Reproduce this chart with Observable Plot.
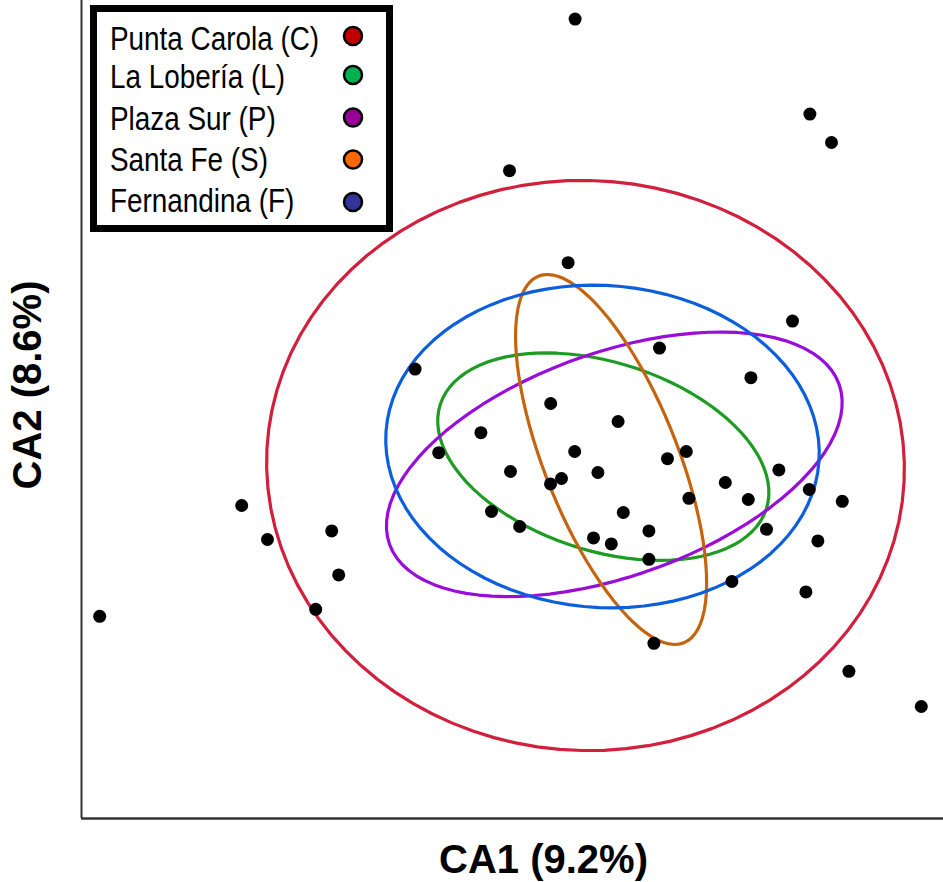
<!DOCTYPE html>
<html>
<head>
<meta charset="utf-8">
<script src="https://cdn.jsdelivr.net/npm/d3@7"></script>
<script src="https://cdn.jsdelivr.net/npm/@observablehq/plot@0.6"></script>
<style>
  html, body { margin: 0; padding: 0; background: #fff; }
  #chart { width: 943px; height: 882px; position: relative; }
</style>
</head>
<body>
<div id="chart"></div>
<script>
// ---- Data ----
const xLabel = "CA1 (9.2%)";
const yLabel = "CA2 (8.6%)";

// Sample scores (CA1, CA2)
const ca1 = [-0.057, 1.117, 1.225, -0.385, -0.092, 1.030, 0.365, 0.822, -0.179, 0.158,
             -0.857, -1.724, -1.595, -1.274, -1.239, -1.354, -2.434, -0.528, -0.739, -0.380,
             -0.475, -0.334, -0.059, -0.180, -0.125, 0.057, 0.405, 0.499, 0.962, 0.694,
             0.809, 0.512, 1.114, 1.279, 0.184, 0.312, 0.035, 0.124, 0.312, 0.900,
             1.157, 0.727, 1.097, 0.337, 1.312, 1.674];
const ca2 = [2.232, 1.757, 1.615, 1.474, 1.014, 0.722, 0.587, 0.439, 0.310, 0.220,
             0.482, -0.200, -0.370, -0.327, -0.547, -0.719, -0.754, 0.164, 0.064, -0.030,
             -0.230, -0.305, 0.070, -0.092, -0.065, -0.035, 0.034, 0.070, -0.022, -0.085,
             -0.170, -0.164, -0.120, -0.179, -0.235, -0.327, -0.362, -0.392, -0.469, -0.319,
             -0.377, -0.580, -0.632, -0.889, -1.029, -1.205];

// Sites (legend)
const sites = ["Punta Carola (C)", "La Lobería (L)", "Plaza Sur (P)", "Santa Fe (S)", "Fernandina (F)"];

// Ellipse parameters per site: centre, semi-axes, rotation (degrees, CCW)
const ellipseCx    = [-0.005, 0.084, 0.139, 0.123, 0.080];
const ellipseCy    = [0.000, 0.044, 0.006, 0.030, 0.095];
const ellipseA     = [1.595, 0.856, 1.193, 0.986, 1.085];
const ellipseB     = [1.425, 0.471, 0.559, 0.334, 0.805];
const ellipseAngle = [-3, -17.7, 19.6, -68.4, -4];

// ---- Styles ----
const legendColors  = ["#c00000", "#00b050", "#990099", "#ff6600", "#333399"];
const ellipseColors = ["#d21f3c", "#1e9b23", "#9a0cd8", "#c4640f", "#0b5fdc"];

// ---- Build tables ----
const points = ca1.map((x, i) => ({x, y: ca2[i]}));
const outline = [];
sites.forEach((s, k) => {
  const t0 = ellipseAngle[k] * Math.PI / 180;
  const n = 90;
  for (let j = 0; j < n; j++) {
    const t = 2 * Math.PI * j / n;
    const ex = ellipseA[k] * Math.cos(t), ey = ellipseB[k] * Math.sin(t);
    outline.push({
      site: s,
      x: ellipseCx[k] + ex * Math.cos(t0) - ey * Math.sin(t0),
      y: ellipseCy[k] + ex * Math.sin(t0) + ey * Math.cos(t0)
    });
  }
});

const xDomain = [-2.525, 1.785];
const yDomain = [-1.765, 2.325];

const chart = Plot.plot({
  width: 943,
  height: 882,
  marginLeft: 81,
  marginRight: 0,
  marginTop: 0,
  marginBottom: 64,
  style: {fontFamily: "'Liberation Sans', Arial, sans-serif", background: "#fff", overflow: "visible"},
  x: {domain: xDomain, axis: null},
  y: {domain: yDomain, axis: null},
  color: {domain: sites, range: ellipseColors},
  marks: [
    Plot.line(outline, {x: "x", y: "y", z: "site", stroke: "site", strokeWidth: 3.2, curve: "linear-closed"}),
    Plot.dot(points, {x: "x", y: "y", r: 6.5, fill: "black", stroke: "none"}),
    Plot.ruleX([xDomain[0]], {stroke: "#333", strokeWidth: 2}),
    Plot.ruleY([yDomain[0]], {stroke: "#333", strokeWidth: 2.5}),
    Plot.text([xLabel], {frameAnchor: "bottom", dx: 31, dy: 54, fontSize: 40, fontWeight: "bold", fill: "black", lineAnchor: "bottom"}),
    Plot.text([yLabel], {frameAnchor: "left", dx: -53, dy: -24.5, rotate: -90, fontSize: 40, fontWeight: "bold", fill: "black", textAnchor: "middle", lineAnchor: "middle"})
  ]
});

document.getElementById("chart").appendChild(chart);

// ---- Legend box (drawn with d3 into the plot's SVG) ----
const svg = d3.select(chart);
const lg = svg.append("g").attr("class", "legend").attr("text-anchor", "start");
lg.append("rect")
  .attr("x", 93.5).attr("y", 8.5).attr("width", 296).attr("height", 220)
  .attr("fill", "white").attr("stroke", "black").attr("stroke-width", 7);
const baselines = [50, 87.5, 130, 171, 212];
const dotYs = [36, 75, 117.5, 159.5, 202];
sites.forEach((s, i) => {
  lg.append("text")
    .attr("transform", `translate(110,${baselines[i]}) scale(0.845,1)`)
    .attr("text-anchor", "start")
    .attr("font-size", 33)
    .attr("font-family", "'Liberation Sans', Arial, sans-serif")
    .attr("fill", "black")
    .text(s);
  lg.append("circle")
    .attr("cx", 353).attr("cy", dotYs[i]).attr("r", 9)
    .attr("fill", legendColors[i]).attr("stroke", "black").attr("stroke-width", 2.5);
});
</script>
</body>
</html>
